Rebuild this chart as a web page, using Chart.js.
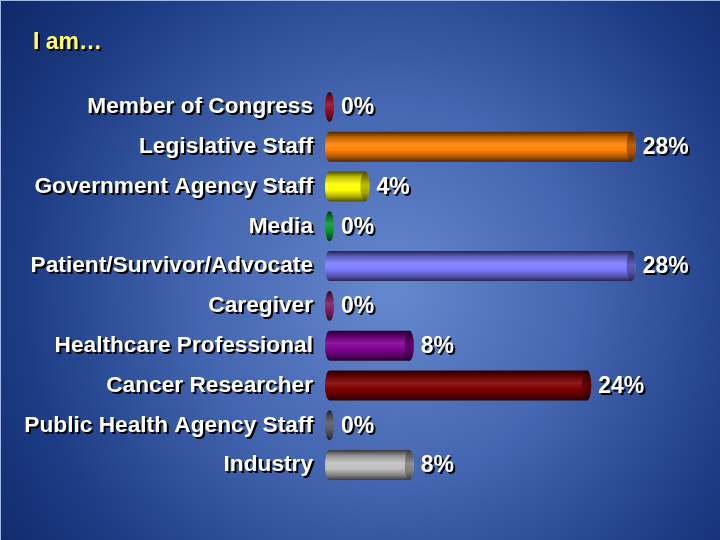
<!DOCTYPE html>
<html>
<head>
<meta charset="utf-8">
<script src="https://cdn.jsdelivr.net/npm/chart.js@4"></script>
<style>
  html, body { margin: 0; padding: 0; background: #1a3a80; }
  #c { display: block; }
</style>
</head>
<body>
<canvas id="c" width="720" height="540"></canvas>
<script>
const categories = [
  'Member of Congress',
  'Legislative Staff',
  'Government Agency Staff',
  'Media',
  'Patient/Survivor/Advocate',
  'Caregiver',
  'Healthcare Professional',
  'Cancer Researcher',
  'Public Health Agency Staff',
  'Industry'
];
const values = [0, 28, 4, 0, 28, 0, 8, 24, 0, 8];
const barColors = [
  '#9a0a28', '#ff8000', '#ffff00', '#0a9a30', '#7c7cff',
  '#802060', '#800090', '#800000', '#5a5e6a', '#c0c0c0'
];
const titleText = 'I am\u2026';
const FONT = '"Liberation Sans", Arial, Helvetica, sans-serif';

function hexToRgb(h) {
  h = h.replace('#', '');
  return [parseInt(h.substr(0,2),16), parseInt(h.substr(2,2),16), parseInt(h.substr(4,2),16)];
}
function shade(hex, f) {
  const [r,g,b] = hexToRgb(hex);
  if (f < 1) return `rgb(${Math.round(r*f)},${Math.round(g*f)},${Math.round(b*f)})`;
  const t = f - 1;
  return `rgb(${Math.round(r+(255-r)*t)},${Math.round(g+(255-g)*t)},${Math.round(b+(255-b)*t)})`;
}
function setShadow(ctx) {
  ctx.shadowColor = '#000';
  ctx.shadowOffsetX = 2;
  ctx.shadowOffsetY = 2;
  ctx.shadowBlur = 0;
}
function clearShadow(ctx) {
  ctx.shadowColor = 'rgba(0,0,0,0)';
  ctx.shadowOffsetX = 0;
  ctx.shadowOffsetY = 0;
  ctx.shadowBlur = 0;
}

const decorPlugin = {
  id: 'decor',
  afterLayout(chart) {
    if (chart.titleBlock) {
      chart.titleBlock.left = 33;
    }
  },
  beforeDraw(chart) {
    const ctx = chart.ctx;
    const w = chart.width, h = chart.height;
    ctx.save();
    const g = ctx.createRadialGradient(390, 290, 10, 390, 290, 520);
    g.addColorStop(0, '#6587cd');
    g.addColorStop(0.35, '#4566b0');
    g.addColorStop(0.7, '#1d3c85');
    g.addColorStop(1, '#0a2260');
    ctx.fillStyle = g;
    ctx.fillRect(0, 0, w, h);
    ctx.fillStyle = '#9fb8e8';
    ctx.fillRect(0, 0, w, 1);
    ctx.fillRect(0, 0, 1, h);
    ctx.restore();
    setShadow(ctx);
  },
  beforeDatasetsDraw(chart) {
    clearShadow(chart.ctx);
  },
  afterDatasetsDraw(chart) {
    const ctx = chart.ctx;
    const meta = chart.getDatasetMeta(0);
    const rx = 4.5;
    meta.data.forEach((el, i) => {
      const col = barColors[i];
      const x1 = el.base;
      const x2 = el.x;
      const yc = el.y;
      const hh = el.height / 2;
      const top = yc - hh, bot = yc + hh;
      const xe = Math.max(x2 - rx, x1 + rx);
      ctx.save();
      const g = ctx.createLinearGradient(0, top, 0, bot);
      g.addColorStop(0, shade(col, 0.3));
      g.addColorStop(0.18, shade(col, 0.75));
      g.addColorStop(0.42, shade(col, 1.1));
      g.addColorStop(0.62, shade(col, 1.0));
      g.addColorStop(0.85, shade(col, 0.65));
      g.addColorStop(1, shade(col, 0.3));
      ctx.beginPath();
      ctx.moveTo(x1 + rx, top);
      ctx.lineTo(xe, top);
      ctx.ellipse(xe, yc, rx, hh, 0, -Math.PI / 2, Math.PI / 2);
      ctx.lineTo(x1 + rx, bot);
      ctx.ellipse(x1 + rx, yc, rx, hh, 0, Math.PI / 2, Math.PI * 1.5);
      ctx.closePath();
      ctx.fillStyle = g;
      ctx.fill();
      if (x2 - x1 > 2 * rx) {
        const gc = ctx.createLinearGradient(0, top, 0, bot);
        gc.addColorStop(0, shade(col, 0.3));
        gc.addColorStop(0.45, shade(col, 0.75));
        gc.addColorStop(0.7, shade(col, 0.65));
        gc.addColorStop(1, shade(col, 0.3));
        ctx.beginPath();
        ctx.ellipse(xe, yc, rx, hh, 0, 0, Math.PI * 2);
        ctx.fillStyle = gc;
        ctx.fill();
      }
      ctx.restore();

      ctx.save();
      setShadow(ctx);
      ctx.fillStyle = '#ffffff';
      ctx.font = 'bold 23px ' + FONT;
      ctx.textAlign = 'left';
      ctx.textBaseline = 'middle';
      ctx.fillText(values[i] + '%', Math.max(x2, x1 + 2 * rx) + 7, yc + 1);
      ctx.restore();
    });
  }
};

new Chart(document.getElementById('c'), {
  type: 'bar',
  data: {
    labels: categories,
    datasets: [{
      data: values,
      backgroundColor: 'rgba(0,0,0,0)',
      borderWidth: 0,
      barThickness: 30
    }]
  },
  options: {
    indexAxis: 'y',
    responsive: false,
    animation: false,
    events: [],
    layout: { padding: { left: 10, right: 40, top: 0, bottom: 55 } },
    plugins: {
      legend: { display: false },
      tooltip: { enabled: false },
      title: {
        display: true,
        text: titleText,
        align: 'start',
        color: '#ffff66',
        font: { family: FONT, size: 23, weight: 'bold', lineHeight: 1.2 },
        padding: { top: 29, bottom: 30.4 }
      }
    },
    scales: {
      x: { display: false, min: 0, max: 32 },
      y: {
        grid: { display: false, drawTicks: false },
        border: { display: false },
        ticks: {
          color: '#ffffff',
          padding: 12,
          font: { family: FONT, size: 22.7, weight: 'bold' }
        },
        afterFit(scale) { scale.width = 315; }
      }
    }
  },
  plugins: [decorPlugin]
});
</script>
</body>
</html>
